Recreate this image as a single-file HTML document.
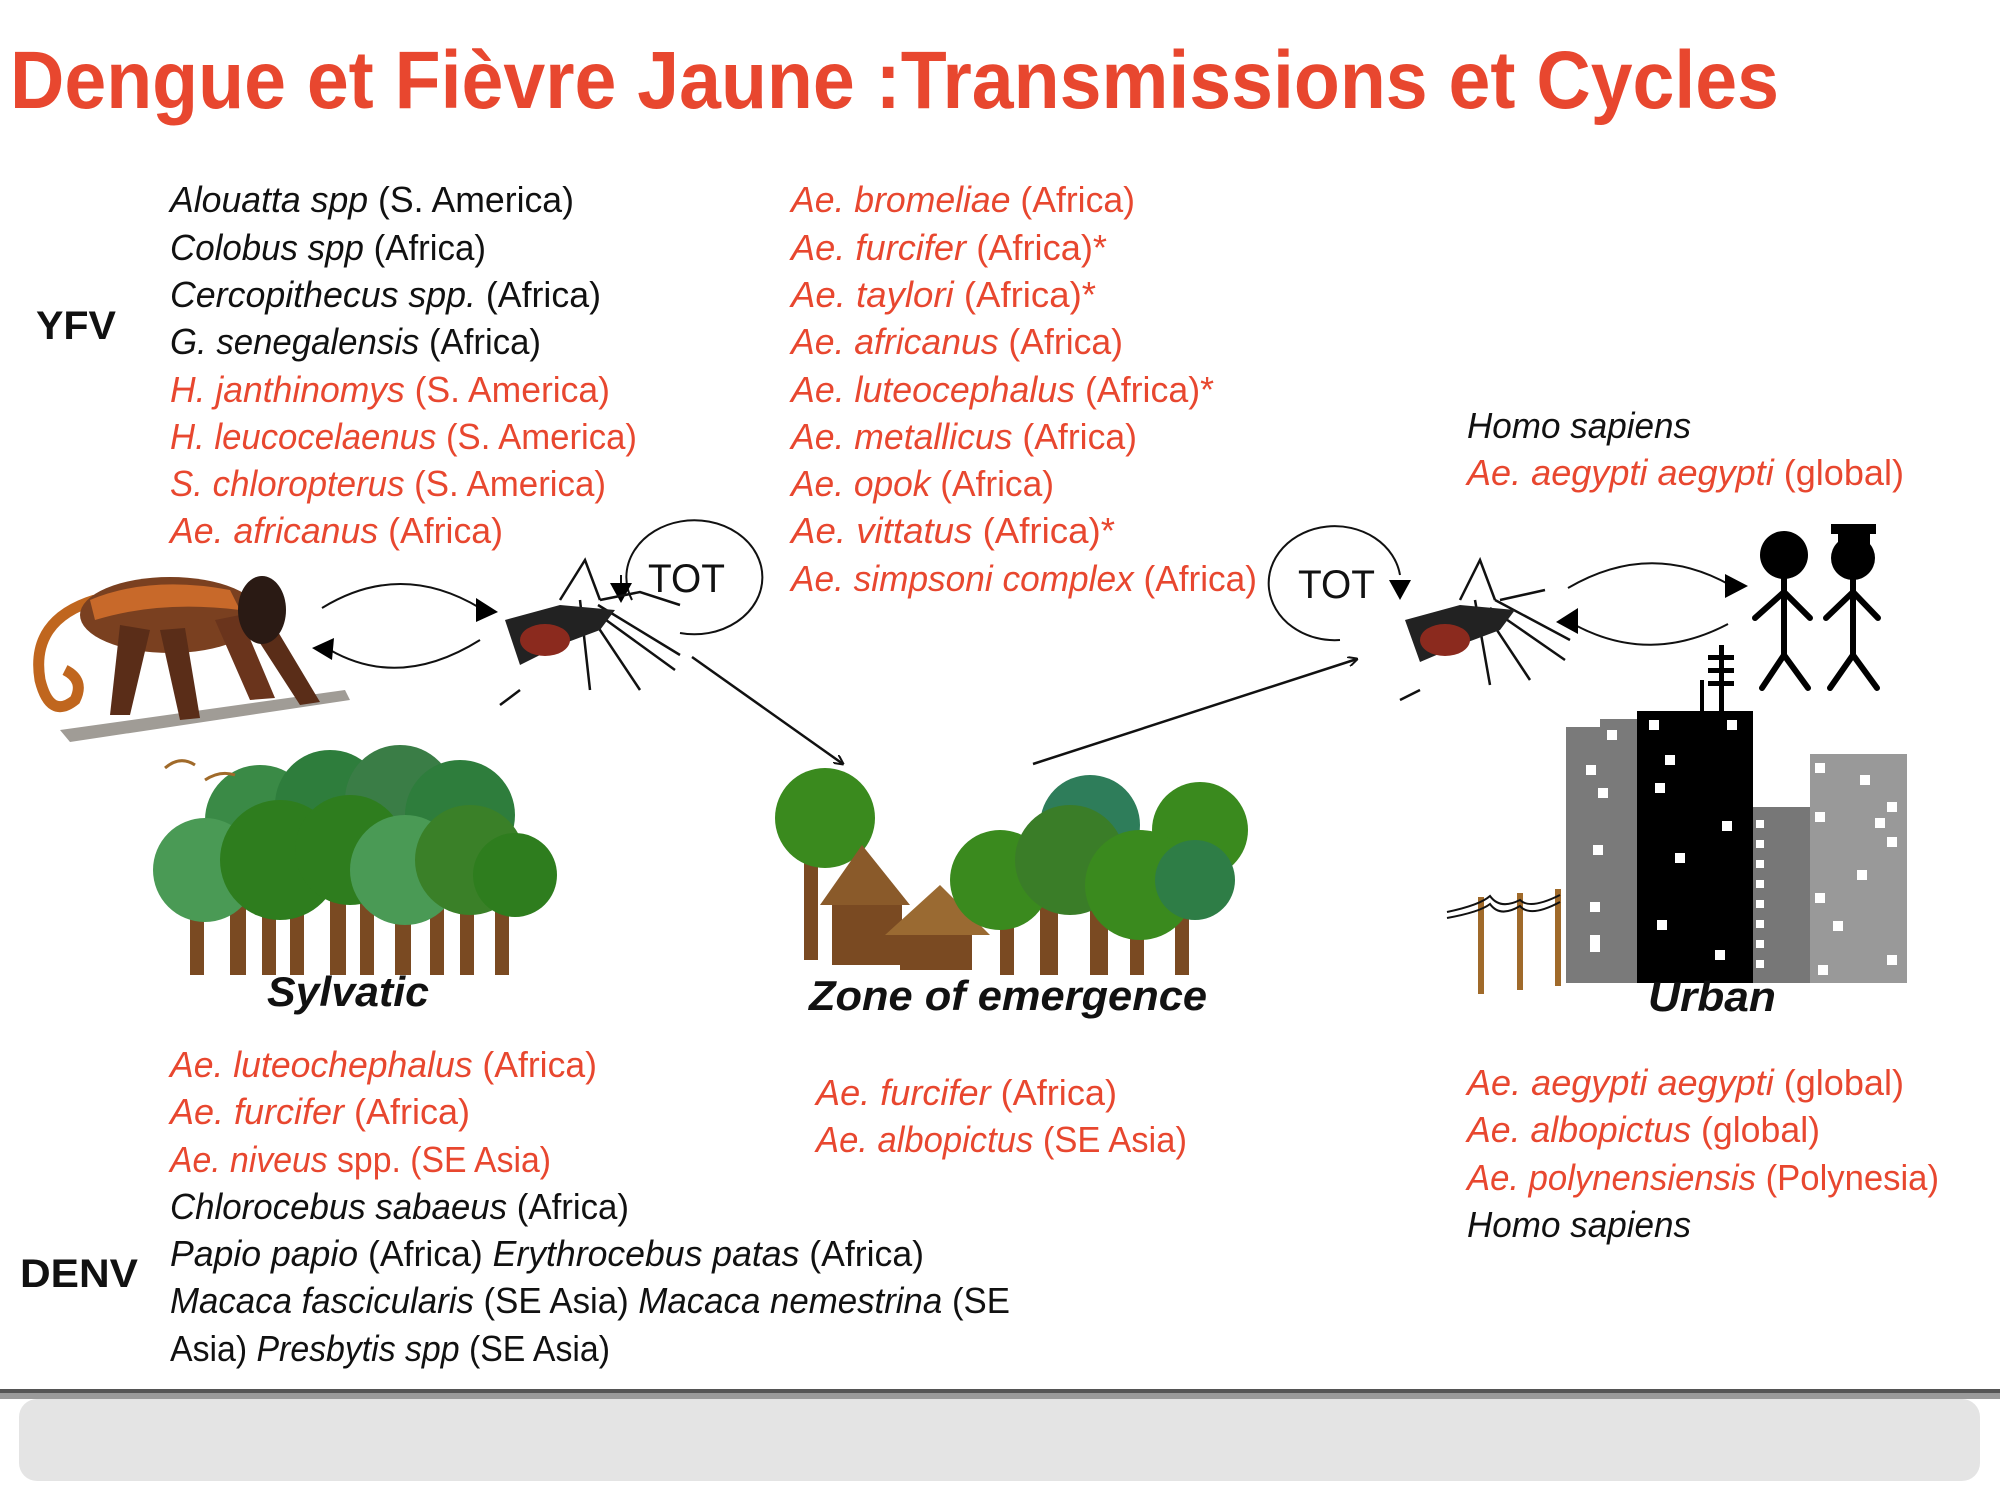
<!DOCTYPE html>
<html><head><meta charset="utf-8"><style>
html,body{margin:0;padding:0;background:#fff;}
svg{display:block;}
text{font-family:"Liberation Sans",sans-serif;}
.b{fill:#111;font-size:36px;}
.r{fill:#e8472f;font-size:36px;}
.i{font-style:italic;}
</style></head><body>
<svg width="2000" height="1500" viewBox="0 0 2000 1500" xmlns="http://www.w3.org/2000/svg">
<defs>
<marker id="ah" markerWidth="10" markerHeight="10" refX="9" refY="5" orient="auto" markerUnits="userSpaceOnUse"><path d="M0,0 L10,5 L0,10" fill="none" stroke="#111" stroke-width="2"/></marker>
<marker id="tri" markerWidth="22" markerHeight="22" refX="18" refY="11" orient="auto" markerUnits="userSpaceOnUse"><path d="M0,0 L22,11 L0,22 Z" fill="#000"/></marker>
</defs>
<text x="10" y="108" font-size="82" font-weight="bold" fill="#e8472f" textLength="1769" lengthAdjust="spacingAndGlyphs">Dengue et Fièvre Jaune :Transmissions et Cycles</text>

<text x="36" y="339" font-size="40" font-weight="bold" fill="#111" textLength="80" lengthAdjust="spacingAndGlyphs">YFV</text>
<text x="20" y="1287" font-size="40" font-weight="bold" fill="#111" textLength="118" lengthAdjust="spacingAndGlyphs">DENV</text>

<g lengthAdjust="spacingAndGlyphs">
<text class="b" x="170" y="212" textLength="404" lengthAdjust="spacingAndGlyphs"><tspan class="i">Alouatta spp</tspan> (S. America)</text>
<text class="b" x="170" y="260" textLength="316" lengthAdjust="spacingAndGlyphs"><tspan class="i">Colobus spp</tspan> (Africa)</text>
<text class="b" x="170" y="307" textLength="431" lengthAdjust="spacingAndGlyphs"><tspan class="i">Cercopithecus spp.</tspan>  (Africa)</text>
<text class="b" x="170" y="354" textLength="371" lengthAdjust="spacingAndGlyphs"><tspan class="i">G. senegalensis</tspan> (Africa)</text>
<text class="r" x="170" y="402" textLength="440" lengthAdjust="spacingAndGlyphs"><tspan class="i">H. janthinomys</tspan> (S. America)</text>
<text class="r" x="170" y="449" textLength="467" lengthAdjust="spacingAndGlyphs"><tspan class="i">H. leucocelaenus</tspan> (S. America)</text>
<text class="r" x="170" y="496" textLength="436" lengthAdjust="spacingAndGlyphs"><tspan class="i">S. chloropterus</tspan> (S. America)</text>
<text class="r" x="170" y="543" textLength="333" lengthAdjust="spacingAndGlyphs"><tspan class="i">Ae. africanus</tspan> (Africa)</text>

<text class="r" x="791" y="212" textLength="344" lengthAdjust="spacingAndGlyphs"><tspan class="i">Ae. bromeliae</tspan> (Africa)</text>
<text class="r" x="791" y="260" textLength="316" lengthAdjust="spacingAndGlyphs"><tspan class="i">Ae. furcifer</tspan> (Africa)*</text>
<text class="r" x="791" y="307" textLength="305" lengthAdjust="spacingAndGlyphs"><tspan class="i">Ae. taylori</tspan> (Africa)*</text>
<text class="r" x="791" y="354" textLength="332" lengthAdjust="spacingAndGlyphs"><tspan class="i">Ae. africanus</tspan> (Africa)</text>
<text class="r" x="791" y="402" textLength="423" lengthAdjust="spacingAndGlyphs"><tspan class="i">Ae. luteocephalus</tspan> (Africa)*</text>
<text class="r" x="791" y="449" textLength="346" lengthAdjust="spacingAndGlyphs"><tspan class="i">Ae. metallicus</tspan> (Africa)</text>
<text class="r" x="791" y="496" textLength="263" lengthAdjust="spacingAndGlyphs"><tspan class="i">Ae. opok</tspan> (Africa)</text>
<text class="r" x="791" y="543" textLength="324" lengthAdjust="spacingAndGlyphs"><tspan class="i">Ae. vittatus</tspan> (Africa)*</text>
<text class="r" x="791" y="591" textLength="466" lengthAdjust="spacingAndGlyphs"><tspan class="i">Ae. simpsoni complex</tspan> (Africa)</text>

<text class="b i" x="1467" y="438" textLength="224" lengthAdjust="spacingAndGlyphs">Homo sapiens</text>
<text class="r" x="1467" y="485" textLength="437" lengthAdjust="spacingAndGlyphs"><tspan class="i">Ae. aegypti aegypti</tspan> (global)</text>

<text class="r" x="170" y="1077" textLength="427" lengthAdjust="spacingAndGlyphs"><tspan class="i">Ae. luteochephalus</tspan> (Africa)</text>
<text class="r" x="170" y="1124" textLength="300" lengthAdjust="spacingAndGlyphs"><tspan class="i">Ae. furcifer</tspan> (Africa)</text>
<text class="r" x="170" y="1172" textLength="381" lengthAdjust="spacingAndGlyphs"><tspan class="i">Ae. niveus</tspan> spp. (SE Asia)</text>
<text class="b" x="170" y="1219" textLength="459" lengthAdjust="spacingAndGlyphs"><tspan class="i">Chlorocebus sabaeus</tspan> (Africa)</text>
<text class="b" x="170" y="1266" textLength="754" lengthAdjust="spacingAndGlyphs"><tspan class="i">Papio papio</tspan> (Africa) <tspan class="i">Erythrocebus patas</tspan> (Africa)</text>
<text class="b" x="170" y="1313" textLength="840" lengthAdjust="spacingAndGlyphs"><tspan class="i">Macaca fascicularis</tspan> (SE Asia) <tspan class="i">Macaca nemestrina</tspan> (SE</text>
<text class="b" x="170" y="1361" textLength="440" lengthAdjust="spacingAndGlyphs">Asia) <tspan class="i">Presbytis spp</tspan> (SE Asia)</text>

<text class="r" x="816" y="1105" textLength="301" lengthAdjust="spacingAndGlyphs"><tspan class="i">Ae. furcifer</tspan> (Africa)</text>
<text class="r" x="816" y="1152" textLength="371" lengthAdjust="spacingAndGlyphs"><tspan class="i">Ae. albopictus</tspan> (SE Asia)</text>

<text class="r" x="1467" y="1095" textLength="437" lengthAdjust="spacingAndGlyphs"><tspan class="i">Ae. aegypti aegypti</tspan> (global)</text>
<text class="r" x="1467" y="1142" textLength="353" lengthAdjust="spacingAndGlyphs"><tspan class="i">Ae. albopictus</tspan> (global)</text>
<text class="r" x="1467" y="1190" textLength="472" lengthAdjust="spacingAndGlyphs"><tspan class="i">Ae. polynensiensis</tspan> (Polynesia)</text>
<text class="b i" x="1467" y="1237" textLength="224" lengthAdjust="spacingAndGlyphs">Homo sapiens</text>
</g>

<!-- TOT circles -->
<path d="M632,600 A68,57 0 1 1 680,633" fill="none" stroke="#111" stroke-width="2"/>
<path d="M621,575 L621,598" stroke="#111" stroke-width="2"/>
<path d="M610,583 L632,583 L621,603 Z" fill="#000"/>
<text x="648" y="592" font-size="40" fill="#111" textLength="77" lengthAdjust="spacingAndGlyphs">TOT</text>
<path d="M1340,640 A66,57 0 1 1 1400,575" fill="none" stroke="#111" stroke-width="2"/>
<path d="M1389,580 L1411,580 L1400,600 Z" fill="#000"/>
<text x="1298" y="598" font-size="40" fill="#111" textLength="77" lengthAdjust="spacingAndGlyphs">TOT</text>

<!-- cycle arcs -->
<path d="M322,608 Q400,560 480,608" fill="none" stroke="#111" stroke-width="2"/>
<path d="M476,598 L498,612 L476,622 Z" fill="#000"/>
<path d="M480,640 Q400,690 330,650" fill="none" stroke="#111" stroke-width="2"/>
<path d="M312,648 L334,638 L332,660 Z" fill="#000"/>
<path d="M1568,588 Q1650,540 1730,585" fill="none" stroke="#111" stroke-width="2"/>
<path d="M1725,574 L1748,586 L1725,598 Z" fill="#000"/>
<path d="M1728,624 Q1650,665 1575,625" fill="none" stroke="#111" stroke-width="2"/>
<path d="M1556,622 L1578,608 L1578,634 Z" fill="#000"/>

<!-- diagonal arrows -->
<line x1="692" y1="657" x2="843" y2="764" stroke="#111" stroke-width="2.5" marker-end="url(#ah)"/>
<line x1="1033" y1="764" x2="1357" y2="659" stroke="#111" stroke-width="2.5" marker-end="url(#ah)"/>

<!-- monkey -->
<g>
<path d="M60,730 L345,690 L350,700 L70,742 Z" fill="#a09c96"/>
<path d="M95,600 Q30,620 40,680 Q50,720 75,700 Q85,680 65,670" fill="none" stroke="#c0661e" stroke-width="11"/>
<ellipse cx="170" cy="615" rx="90" ry="38" fill="#7a4020"/>
<path d="M90,600 Q150,575 230,590 L240,610 Q160,600 95,620 Z" fill="#c8692a"/>
<path d="M120,625 L110,715 L130,715 L150,630 Z" fill="#5a2d18"/>
<path d="M160,630 L180,720 L200,718 L185,628 Z" fill="#5a2d18"/>
<path d="M215,620 L250,700 L275,698 L240,615 Z" fill="#6a341c"/>
<path d="M245,620 L300,705 L320,702 L265,610 Z" fill="#5a2d18"/>
<ellipse cx="262" cy="610" rx="24" ry="34" fill="#2a1a14"/>
</g>

<!-- mosquitoes -->
<g stroke="#111" stroke-width="2.5" fill="none">
<path d="M560,600 L585,560 L600,600 M580,600 L590,690 M590,615 L640,690 M595,612 L675,670 M598,605 L680,655 M560,610 L540,650 M520,690 L500,705 M600,600 L640,592 L680,605"/>
<path d="M1460,600 L1480,560 L1495,600 M1475,600 L1490,685 M1485,612 L1530,680 M1490,608 L1565,660 M1495,600 L1570,640 M1455,610 L1440,650 M1420,690 L1400,700 M1500,600 L1545,590"/>
</g>
<g>
<path d="M505,620 L560,605 L615,610 L600,630 L560,645 L520,665 Z" fill="#222"/>
<ellipse cx="545" cy="640" rx="25" ry="16" fill="#8b2a1e"/>
<path d="M1405,620 L1460,605 L1515,610 L1500,630 L1460,645 L1420,662 Z" fill="#222"/>
<ellipse cx="1445" cy="640" rx="25" ry="16" fill="#8b2a1e"/>
</g>

<!-- stick figures -->
<g stroke="#000" stroke-width="6" fill="none" stroke-linecap="round">
<path d="M1784,578 L1784,655 M1784,592 L1755,618 M1784,592 L1810,618 M1784,655 L1762,688 M1784,655 L1808,688"/>
<path d="M1853,578 L1853,655 M1853,592 L1826,618 M1853,592 L1878,618 M1853,655 L1830,688 M1853,655 L1877,688"/>
</g>
<circle cx="1784" cy="555" r="24" fill="#000"/>
<circle cx="1853" cy="558" r="22" fill="#000"/>
<rect x="1831" y="524" width="45" height="10" fill="#000"/>
<rect x="1838" y="532" width="32" height="14" fill="#000"/>

<!-- city -->
<rect x="1566" y="727" width="72" height="256" fill="#7a7a7a"/>
<rect x="1600" y="719" width="38" height="20" fill="#7a7a7a"/>
<rect x="1637" y="711" width="116" height="272" fill="#000"/>
<rect x="1719" y="645" width="5" height="68" fill="#000"/>
<rect x="1708" y="655" width="26" height="5" fill="#000"/><rect x="1708" y="668" width="26" height="5" fill="#000"/><rect x="1708" y="681" width="26" height="5" fill="#000"/>
<rect x="1700" y="680" width="4" height="32" fill="#000"/>
<rect x="1753" y="807" width="58" height="176" fill="#777"/>
<rect x="1810" y="754" width="97" height="229" fill="#999"/>
<g fill="#fff">
<rect x="1586" y="765" width="10" height="10"/><rect x="1598" y="788" width="10" height="10"/><rect x="1590" y="935" width="10" height="10"/><rect x="1590" y="942" width="10" height="10"/><rect x="1593" y="845" width="10" height="10"/><rect x="1590" y="902" width="10" height="10"/><rect x="1607" y="730" width="10" height="10"/>
<rect x="1649" y="720" width="10" height="10"/><rect x="1727" y="720" width="10" height="10"/><rect x="1665" y="755" width="10" height="10"/><rect x="1655" y="783" width="10" height="10"/><rect x="1722" y="821" width="10" height="10"/><rect x="1675" y="853" width="10" height="10"/><rect x="1657" y="920" width="10" height="10"/><rect x="1715" y="950" width="10" height="10"/>
<rect x="1756" y="820" width="8" height="8"/><rect x="1756" y="840" width="8" height="8"/><rect x="1756" y="860" width="8" height="8"/><rect x="1756" y="880" width="8" height="8"/><rect x="1756" y="900" width="8" height="8"/><rect x="1756" y="920" width="8" height="8"/><rect x="1756" y="940" width="8" height="8"/><rect x="1756" y="960" width="8" height="8"/>
<rect x="1815" y="763" width="10" height="10"/><rect x="1860" y="775" width="10" height="10"/><rect x="1887" y="802" width="10" height="10"/><rect x="1815" y="812" width="10" height="10"/><rect x="1875" y="818" width="10" height="10"/><rect x="1887" y="837" width="10" height="10"/><rect x="1857" y="870" width="10" height="10"/><rect x="1815" y="893" width="10" height="10"/><rect x="1833" y="921" width="10" height="10"/><rect x="1887" y="955" width="10" height="10"/><rect x="1818" y="965" width="10" height="10"/>
</g>
<g fill="#a06a2a"><rect x="1478" y="897" width="6" height="97"/><rect x="1517" y="893" width="6" height="97"/><rect x="1555" y="889" width="6" height="97"/></g>
<path d="M1447,912 Q1480,905 1490,896 Q1500,910 1520,900 Q1530,910 1560,895" fill="none" stroke="#111" stroke-width="2"/>
<path d="M1447,918 Q1480,912 1490,904 Q1500,918 1520,906 Q1530,918 1560,902" fill="none" stroke="#111" stroke-width="2"/>

<!-- sylvatic forest -->
<g fill="#7a4a22">
<rect x="190" y="880" width="14" height="95"/><rect x="230" y="885" width="16" height="90"/><rect x="262" y="880" width="14" height="95"/><rect x="290" y="885" width="14" height="90"/><rect x="330" y="880" width="16" height="95"/><rect x="360" y="885" width="14" height="90"/><rect x="395" y="880" width="16" height="95"/><rect x="430" y="885" width="14" height="90"/><rect x="460" y="880" width="14" height="95"/><rect x="495" y="885" width="14" height="90"/>
</g>
<g>
<circle cx="260" cy="820" r="55" fill="#3a8a46"/><circle cx="330" cy="805" r="55" fill="#2e7d3c"/><circle cx="400" cy="800" r="55" fill="#3a7d46"/><circle cx="460" cy="815" r="55" fill="#2e7d3c"/>
<circle cx="205" cy="870" r="52" fill="#4a9a55"/><circle cx="280" cy="860" r="60" fill="#2e7d1e"/><circle cx="350" cy="850" r="55" fill="#2e7d1e"/><circle cx="405" cy="870" r="55" fill="#4a9a55"/><circle cx="470" cy="860" r="55" fill="#3a8028"/><circle cx="515" cy="875" r="42" fill="#2e7d1e"/>
</g>
<path d="M165,768 Q180,755 195,765 M205,780 Q220,770 235,775" stroke="#a06a2a" stroke-width="3" fill="none"/>
<text x="348" y="1006" text-anchor="middle" font-size="42" font-weight="bold" font-style="italic" fill="#111" textLength="162" lengthAdjust="spacingAndGlyphs">Sylvatic</text>

<!-- zone forest -->
<rect x="804" y="840" width="14" height="120" fill="#7a4a22"/>
<circle cx="825" cy="818" r="50" fill="#3a8a1e"/>
<path d="M820,905 L862,845 L910,905 Z" fill="#8a5a2a"/><rect x="832" y="905" width="70" height="60" fill="#7a4a22"/>
<path d="M885,935 L940,885 L990,935 Z" fill="#9a6a32"/><rect x="900" y="935" width="72" height="35" fill="#7a4a22"/>
<g fill="#7a4a22"><rect x="1000" y="900" width="14" height="75"/><rect x="1040" y="900" width="18" height="75"/><rect x="1090" y="900" width="18" height="75"/><rect x="1130" y="900" width="14" height="75"/><rect x="1175" y="900" width="14" height="75"/></g>
<circle cx="1090" cy="825" r="50" fill="#2e7d5a"/><circle cx="1200" cy="830" r="48" fill="#3a8a1e"/>
<circle cx="1000" cy="880" r="50" fill="#3a8a1e"/><circle cx="1070" cy="860" r="55" fill="#3a7d28"/><circle cx="1140" cy="885" r="55" fill="#3a8a1e"/><circle cx="1195" cy="880" r="40" fill="#2e7d46"/>
<text x="1008" y="1010" text-anchor="middle" font-size="42" font-weight="bold" font-style="italic" fill="#111" textLength="398" lengthAdjust="spacingAndGlyphs">Zone of emergence</text>
<text x="1712" y="1011" text-anchor="middle" font-size="42" font-weight="bold" font-style="italic" fill="#111" textLength="128" lengthAdjust="spacingAndGlyphs">Urban</text>

<!-- bottom bar -->
<rect x="0" y="1389" width="2000" height="4" fill="#555"/>
<rect x="0" y="1393" width="2000" height="6" fill="#9a9a9a"/>
<rect x="19" y="1399" width="1961" height="82" rx="18" fill="#e4e4e4"/>
</svg>
</body></html>
